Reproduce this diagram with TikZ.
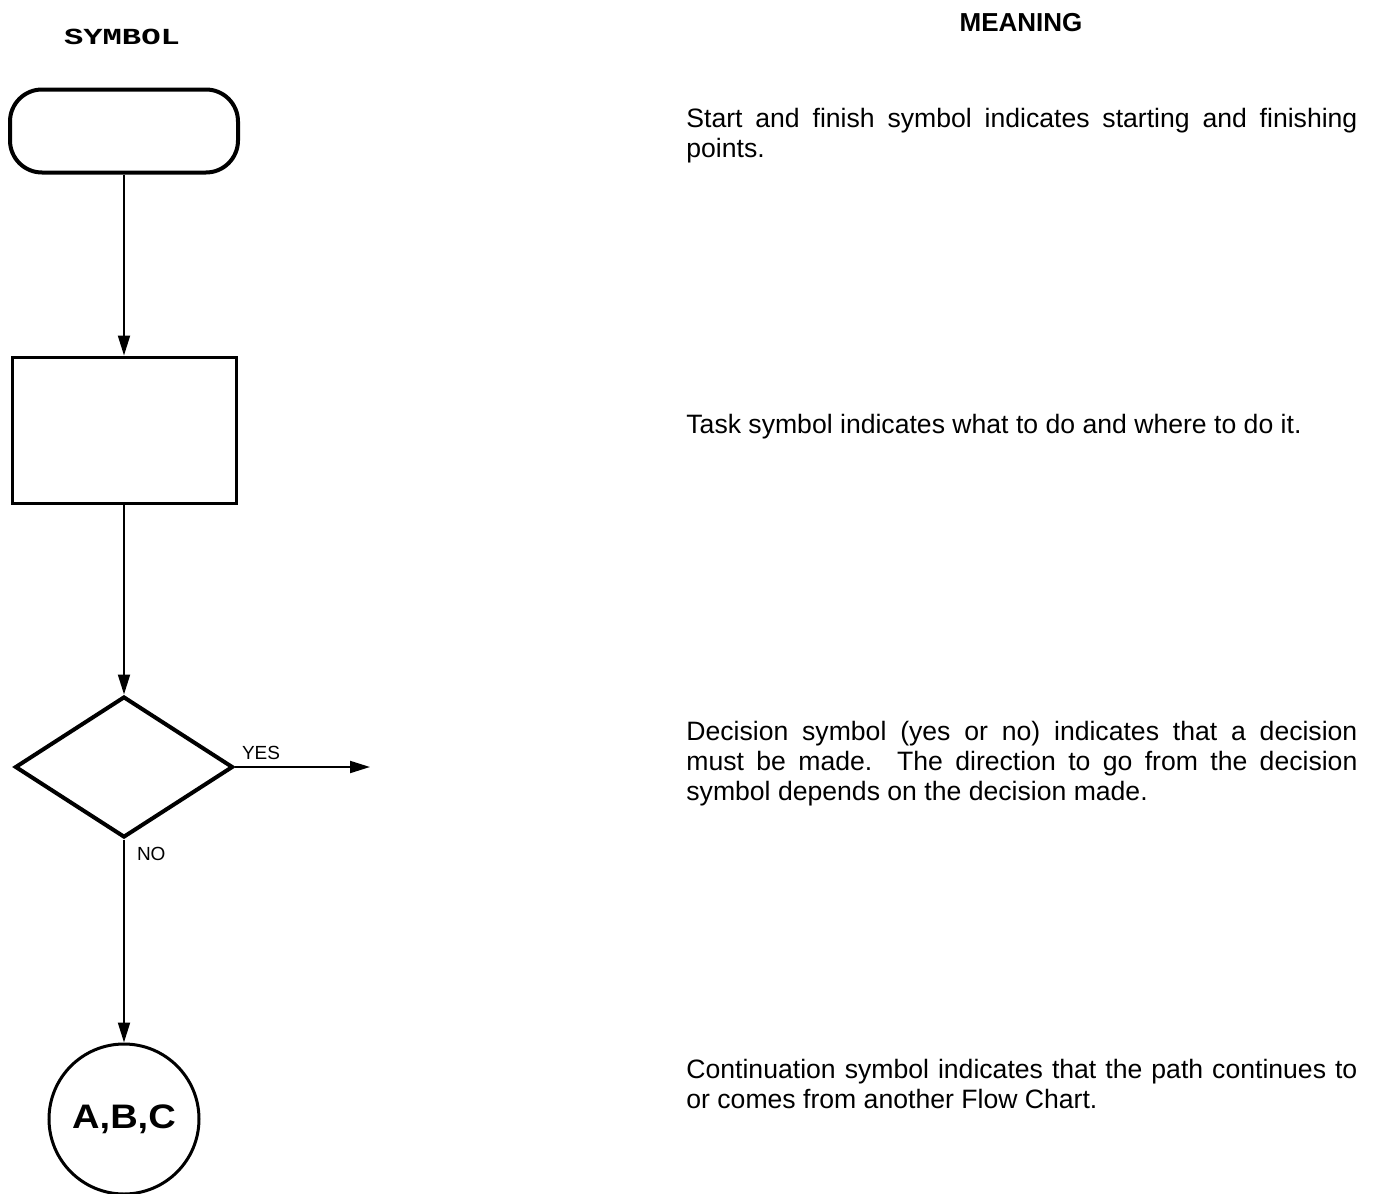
\documentclass[tikz,border=0pt]{standalone}
\usepackage{fontspec}
\usetikzlibrary{shapes.geometric,arrows.meta}
\newfontfamily\symbfont[FakeStretch=1.4]{Liberation Mono}
\newfontfamily\meanfont{Liberation Sans}
\newfontfamily\abcfont[FakeStretch=1.12]{Liberation Sans}
\tikzset{
  meaning/.style={anchor=north west, inner sep=0, text width=335.5pt, align=justify,
    font=\meanfont\fontsize{13.3}{15}\selectfont},
  arr/.style={-{Triangle[length=10pt,width=6pt]}, line width=1pt},
}
\begin{document}
\begin{tikzpicture}[x=0.5pt,y=-0.5pt]
        \useasboundingbox (0,0) rectangle (1377,1194);
        \node[anchor=base, inner sep=0, font=\symbfont\bfseries\fontsize{11.5}{12}\selectfont] (hs) at (122,45) {SYMBOL};
        \node[anchor=base, inner sep=0, font=\meanfont\bfseries\fontsize{13}{14}\selectfont] (hm) at (1021,32) {MEANING};

        \node[draw, rectangle, rounded corners=16pt, line width=2pt, minimum width=114pt, minimum height=41.5pt] (1) at (124,131) {};
        \node[draw, rectangle, line width=1.5pt, minimum width=112pt, minimum height=73pt] (2) at (124,430) {};
        \node[draw, diamond, line width=2pt, minimum width=109pt, minimum height=70.5pt, inner sep=0] (3) at (124,767) {};
        \node[draw, circle, line width=1.5pt, minimum size=75pt, inner sep=0, font=\abcfont\bfseries\fontsize{17}{18}\selectfont] (4) at (124,1119) {A,B,C};
        \coordinate (yes) at (370,767);

        \path[draw,arr] (1) -- (2);
        \path[draw,arr] (2) -- (3);
        \path[draw,arr] (3.east) -- node[pos=0, anchor=base west, inner sep=0, xshift=3pt, yshift=4pt, font=\meanfont\fontsize{9.5}{10}\selectfont] (y) {YES} (yes);
        \path[draw,arr] (3.south) -- node[pos=0, anchor=base west, inner sep=0, xshift=6pt, yshift=-10.5pt, font=\meanfont\fontsize{9.5}{10}\selectfont] (n) {NO} (4);
        %\path[draw,arr] (3.west) -- (4);

        \node[meaning] (t1) at (686,106) {\noindent\strut Start and finish symbol indicates starting and finishing points.};
        \node[meaning] (t2) at (686,412) {\noindent\strut Task symbol indicates what to do and where to do it.};
        \node[meaning] (t3) at (686,719) {\noindent\strut Decision symbol (yes or no) indicates that a decision\linebreak must be made.  The direction to go from the decision\linebreak symbol depends on the decision made.};
        \node[meaning] (t4) at (686,1057) {\noindent\strut Continuation symbol indicates that the path continues to\linebreak or comes from another Flow Chart.};
\end{tikzpicture}
\end{document}
